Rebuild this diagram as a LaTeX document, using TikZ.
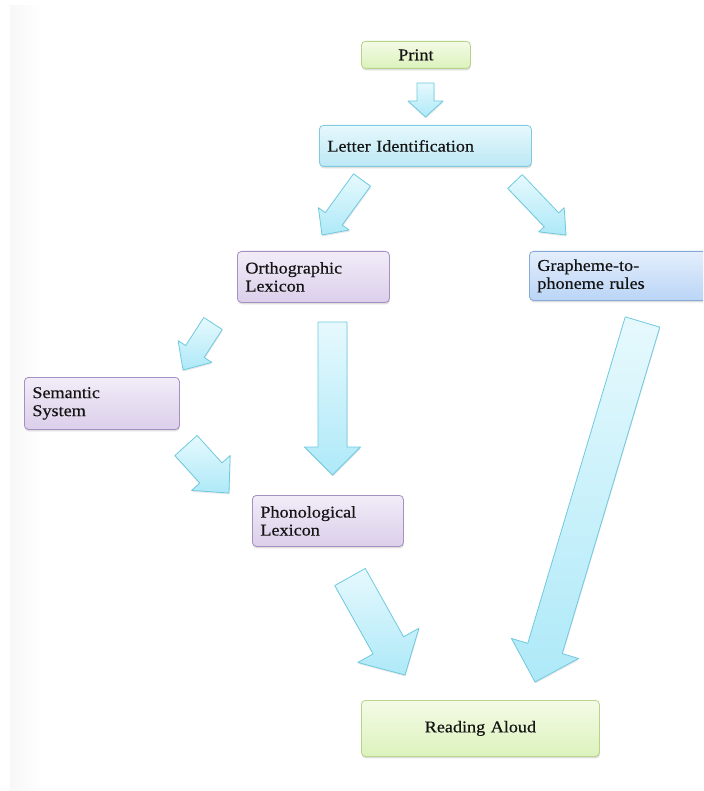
\documentclass[tikz,border=0pt]{standalone}
\usepackage{fontspec}
\setmainfont{Liberation Serif}[FakeStretch=1.1, WordSpace=0.85, FakeBold=0.4]
\usetikzlibrary{calc,shadows}
\definecolor{gtop}{HTML}{F4FBE6}
\definecolor{gbot}{HTML}{DCF2BC}
\definecolor{gbrd}{HTML}{B7D48A}
\definecolor{ctop}{HTML}{E6F8FC}
\definecolor{cbot}{HTML}{BCE8F5}
\definecolor{cbrd}{HTML}{80C9DE}
\definecolor{ptop}{HTML}{F2ECF8}
\definecolor{pbot}{HTML}{DBCFEA}
\definecolor{pbrd}{HTML}{A68FC1}
\definecolor{btop}{HTML}{E4EEFC}
\definecolor{bbot}{HTML}{BAD5F6}
\definecolor{bbrd}{HTML}{86A9D8}
\definecolor{atop}{HTML}{E6F9FD}
\definecolor{abot}{HTML}{AEE9F8}
\definecolor{abrd}{HTML}{6FCADF}
\definecolor{txt}{HTML}{141414}
\tikzset{x=1pt,y=-1pt,
  box/.style={draw, rounded corners=4pt, line width=0.8pt, anchor=north west,
    inner xsep=8pt, inner ysep=2pt, align=left, text=txt,
    font=\fontsize{16.5}{18}\selectfont,
    drop shadow={opacity=0.25, shadow xshift=0.5pt, shadow yshift=-2pt}},
  greenbox/.style={box, draw=gbrd, top color=gtop, bottom color=gbot},
  cyanbox/.style={box, draw=cbrd, top color=ctop, bottom color=cbot},
  purplebox/.style={box, draw=pbrd, top color=ptop, bottom color=pbot},
  bluebox/.style={box, draw=bbrd, top color=btop, bottom color=bbot},
  barrow/.style={draw=abrd, line width=0.8pt, line join=round, top color=atop, bottom color=abot,
    drop shadow={opacity=0.18, shadow xshift=0.5pt, shadow yshift=-1.5pt}}
}
\newcommand\blockarrow[5]{%
  \coordinate (ba-h) at ($(#2)!#5pt!(#1)$);
  \path[barrow] ($(#1)!#3pt!90:(#2)$) -- ($(ba-h)!#3pt!90:(#2)$) -- ($(ba-h)!#4pt!90:(#2)$)
    -- (#2) -- ($(ba-h)!#4pt!-90:(#2)$) -- ($(ba-h)!#3pt!-90:(#2)$) -- ($(#1)!#3pt!-90:(#2)$) -- cycle;
}
\begin{document}
\begin{tikzpicture}
\useasboundingbox (0,0) rectangle (703,791);
\clip (0,0) rectangle (703,791);
\fill[white] (0,0) rectangle (703,791);
\shade[left color=black!3, right color=white] (10,6) rectangle (42,791);

% boxes
\node[greenbox, align=center, text width=93pt, minimum height=27pt] (print) at (361,41) {Print};
\node[cyanbox, text width=196pt, minimum height=41pt] (letter) at (319,125) {Letter Identification};
\node[purplebox, text width=136pt, minimum height=51pt] (ortho) at (237,251) {Orthographic\\Lexicon};
\node[bluebox, text width=174pt, minimum height=49pt] (graph) at (529,251) {Grapheme-to-\\phoneme rules};
\node[purplebox, text width=139pt, minimum height=52pt] (sem) at (24,377) {Semantic\\System};
\node[purplebox, text width=135pt, minimum height=51pt] (phono) at (252,495) {Phonological\\Lexicon};
\node[greenbox, align=center, text width=222pt, minimum height=56pt] (read) at (361,700) {Reading Aloud};

% arrow end points
\coordinate (a1t) at (425.5,83);  \coordinate (a1h) at (425.5,117);
\coordinate (a2t) at (362,180);   \coordinate (a2h) at (322,235);
\coordinate (a3t) at (515,181.5); \coordinate (a3h) at (566,235);
\coordinate (a4t) at (213,323.5); \coordinate (a4h) at (183,370);
\coordinate (a5t) at (332.5,322); \coordinate (a5h) at (332.5,475);
\coordinate (a6t) at (186,445.5); \coordinate (a6h) at (229,493);
\coordinate (a7t) at (350,577);   \coordinate (a7h) at (405,675);
\coordinate (a8t) at (642.5,322); \coordinate (a8h) at (535,682);

\blockarrow{a1t}{a1h}{8.5}{17.5}{16}
\blockarrow{a2t}{a2h}{10.5}{19}{20}
\blockarrow{a3t}{a3h}{10}{17.5}{21}
\blockarrow{a4t}{a4h}{11}{20}{22}
\blockarrow{a5t}{a5h}{14.5}{28}{28}
\blockarrow{a6t}{a6h}{15}{26}{27}
\blockarrow{a7t}{a7h}{17.5}{35}{34}
\blockarrow{a8t}{a8h}{18}{35}{35}
\end{tikzpicture}
\end{document}
